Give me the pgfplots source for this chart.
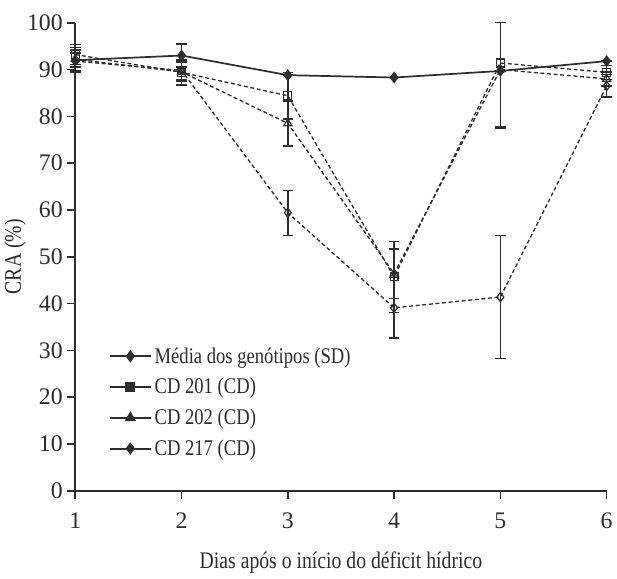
\documentclass[border=0pt]{standalone}
\usepackage{fontspec}
\setmainfont{Liberation Serif}
\newfontfamily\cond[FakeStretch=0.83]{Liberation Serif}
\usepackage{pgfplots}
\usepackage{pgfplotstable}
\pgfplotsset{compat=1.18}
\definecolor{ink}{RGB}{45,45,45}

\pgfplotstableread{
x y ep em
1 92.0 1.5 1.5
2 93.0 2.5 2.5
3 88.8 0 0
4 88.3 0 0
5 89.7 0 0
6 91.8 0 0
}\mean
\pgfplotstableread{
x y ep em
1 93.2 2.1 2.1
2 89.4 2.7 2.7
3 84.4 5.0 5.0
4 45.7 7.6 7.6
5 91.4 8.6 13.7
6 89.4 1.5 1.5
}\cdA
\pgfplotstableread{
x y ep em
1 92.2 2.5 2.5
2 89.5 2.0 2.0
3 78.5 4.8 4.8
4 46.4 5.3 5.3
5 90.0 10.0 12.6
6 88.0 1.5 1.5
}\cdB
\pgfplotstableread{
x y ep em
1 91.8 2.4 2.4
2 89.8 2.0 2.0
3 59.4 4.8 4.8
4 39.1 6.5 6.5
5 41.4 13.1 13.1
6 86.5 2.4 2.4
}\cdC

\begin{document}
\begin{tikzpicture}
\begin{axis}[
  scale only axis,
  width=402.75pt, height=354.75pt,
  xmin=1, xmax=6, ymin=0, ymax=100,
  xtick={1,...,6}, ytick={0,10,...,100},
  axis x line*=bottom, axis y line*=left,
  axis line style={ink, line width=1.2pt},
  tick style={ink, line width=1.2pt},
  tick align=outside, major tick length=6pt,
  clip=false,
  /pgf/number format/assume math mode=true,
  every tick label/.style={font=\fontsize{18}{20}\selectfont, text=ink},
  xticklabel style={yshift=-7pt},
  label style={font=\cond\fontsize{18}{20}\selectfont, text=ink},
  xlabel={Dias após o início do déficit hídrico},
  ylabel={CRA (\%)},
  xlabel style={yshift=-11pt},
  ylabel style={yshift=-6pt},
  legend style={at={(rel axis cs:0.055,0.318)}, anchor=north west, draw=none, fill=none,
    font=\cond\fontsize{17}{18}\selectfont, text=ink, row sep=6pt,
    cells={anchor=west}},
  legend image code/.code={\draw[mark repeat=2,mark phase=2] plot coordinates {(0cm,0cm)(0.55cm,0cm)(1.1cm,0cm)};},
  error bars/error bar style={ink, line width=1.1pt, solid},
  error bars/error mark options={rotate=90, ink, mark size=4pt, line width=1.1pt, solid},
]
\coordinate (O) at (rel axis cs:0,0);
\addplot[forget plot, ink, line width=1pt, dash pattern=on 3pt off 2pt, mark=square, mark size=3pt,
  mark options={solid, line width=0.9pt, fill=white},
  error bars/.cd, y dir=both, y explicit]
  table[x=x, y=y, y error plus=ep, y error minus=em] {\cdA};
\addplot[forget plot, ink, line width=1pt, dash pattern=on 3pt off 2pt, mark=triangle, mark size=3.5pt,
  mark options={solid, line width=0.9pt, fill=white},
  error bars/.cd, y dir=both, y explicit]
  table[x=x, y=y, y error plus=ep, y error minus=em] {\cdB};
\addplot[forget plot, ink, line width=1pt, dash pattern=on 3pt off 2pt, mark=diamond, mark size=3.5pt,
  mark options={solid, line width=0.9pt, fill=white},
  error bars/.cd, y dir=both, y explicit]
  table[x=x, y=y, y error plus=ep, y error minus=em] {\cdC};
\addplot[forget plot, ink, line width=1.3pt, mark=diamond*, mark size=3.5pt,
  mark options={solid, fill=ink},
  error bars/.cd, y dir=both, y explicit]
  table[x=x, y=y, y error plus=ep, y error minus=em] {\mean};

\addlegendimage{ink, line width=1.5pt, mark=diamond*, mark size=3.5pt, mark options={fill=ink}}
\addlegendentry{Média dos genótipos (SD)}
\addlegendimage{ink, line width=1.5pt, mark=square*, mark size=3pt, mark options={fill=ink}}
\addlegendentry{CD 201 (CD)}
\addlegendimage{ink, line width=1.5pt, mark=triangle*, mark size=3.5pt, mark options={fill=ink}}
\addlegendentry{CD 202 (CD)}
\addlegendimage{ink, line width=1.5pt, mark=diamond*, mark size=3.5pt, mark options={fill=ink}}
\addlegendentry{CD 217 (CD)}
\end{axis}
\path ([shift={(-57pt,-57pt)}]O) rectangle ([shift={(405.75pt,372pt)}]O);
\end{tikzpicture}
\end{document}
